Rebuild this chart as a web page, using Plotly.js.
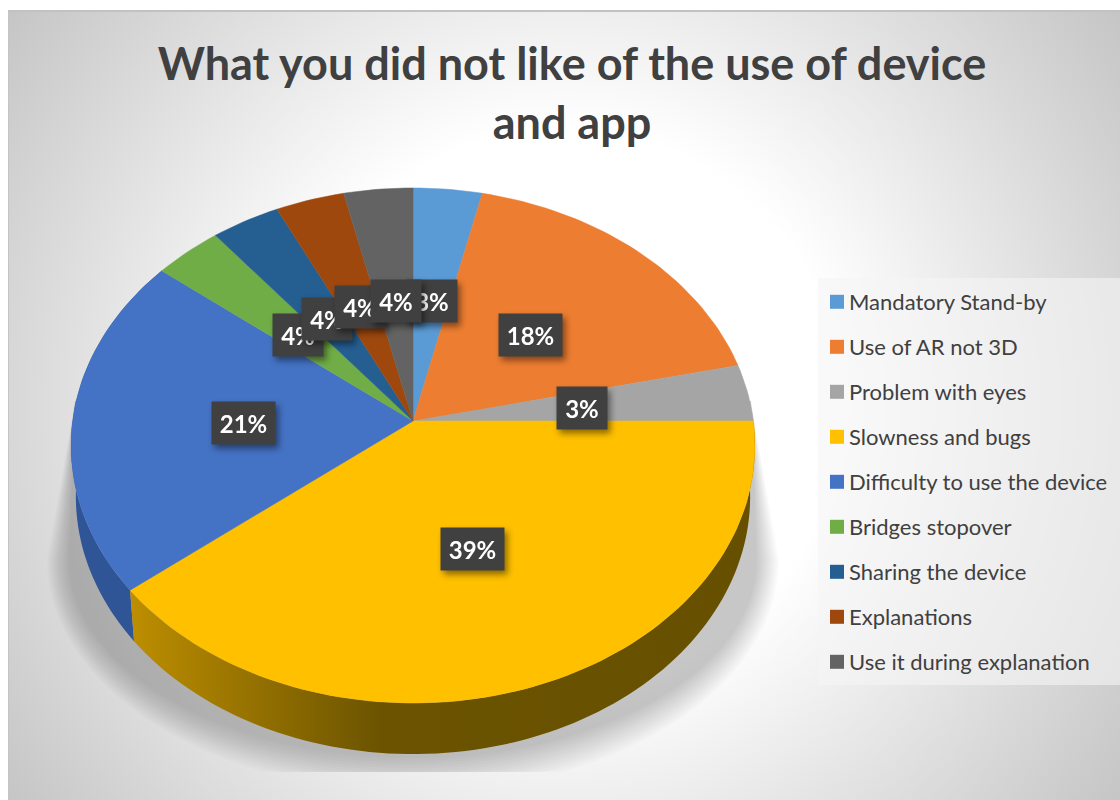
<!DOCTYPE html>
<html>
<head>
<meta charset="utf-8">
<script src="https://cdn.plot.ly/plotly-3.0.1.min.js"></script>
<style>
html,body{margin:0;padding:0;background:#fff;width:1120px;height:800px;overflow:hidden}
#panel{position:absolute;left:8px;top:10px;width:1112px;height:790px;box-sizing:border-box;border-left:1px solid #c4c4c4;border-top:2px solid #c2c2c2;
background:radial-gradient(circle 690px at 555px 394px,#ffffff 0%,#ffffff 40%,#c4c4c4 100%)}
#chart{position:absolute;left:0;top:0;width:1120px;height:800px}
.annotation{filter:drop-shadow(3px 4px 3px rgba(0,0,0,.45))}
</style>
</head>
<body>
<div id="panel"></div>
<div id="chart"></div>
<script>
// ---- data ----
const categories = ["Mandatory Stand-by","Use of AR not 3D","Problem with eyes","Slowness and bugs","Difficulty to use the device","Bridges stopover","Sharing the device","Explanations","Use it during explanation"];
const counts = [1,5,1,11,6,1,1,1,1];
const percentLabels = ["3%","18%","3%","39%","21%","4%","4%","4%","4%"];
const sliceColors = ["#5B9BD5","#ED7D31","#A5A5A5","#FFC000","#4472C4","#70AD47","#255E91","#9E480E","#636363"];
const titleText = "What you did not like of the use of device<br>and app";

// ---- view geometry ----
const W=1120,H=800, cx=413, cy=421, pxX=340.4, pxY=255.2, persp=0.0951, depth=0.2, baseScale=0.986;
const total = counts.reduce((a,b)=>a+b,0);
function proj(deg,r){const t=deg*Math.PI/180,X=r*Math.sin(t),Y=-r*Math.cos(t),w=1-persp*Y;return [X/w,-Y/w];}
function arc(a0,a1){const n=Math.max(2,Math.ceil((a1-a0)/1.5)),p=[];for(let i=0;i<=n;i++)p.push(proj(a0+(a1-a0)*i/n,1));return p;}

const traces=[];
// soft shadow beneath the disc
(function(){
  const layers=14;
  const cyPx=560;
  for(let i=0;i<layers;i++){
    const f=i/(layers-1), a=(366-22*f)/pxX, b=(232-34*f)/pxY, c0=-(cyPx-cy)/pxY, floor=-(772-cy)/pxY;
    const xs=[-(338)/pxX],ys=[-(-20)/pxY];
    for(let d=180;d<=360;d+=3){const t=d*Math.PI/180;xs.push(a*Math.cos(t));ys.push(Math.max(floor,c0+b*Math.sin(t)));}
    xs.push(338/pxX);ys.push(20/pxY);
    traces.push({type:"scatter",mode:"none",x:xs,y:ys,fill:"toself",fillcolor:"rgba(0,0,0,0.017)",showlegend:false,hoverinfo:"skip"});
  }
})();

// disc side wall
const wallFill = {
  3:{fillgradient:{type:"horizontal",colorscale:[[0,"#BD8E00"],[0.4,"#6B5300"],[1,"#665000"]]}},
  4:{fillcolor:"#2F5597"}
};
let acc=0;
const bounds=counts.map(v=>{const s=acc;acc+=v;return [s/total*360,acc/total*360];});
[4,3].forEach(i=>{
  const top=arc(bounds[i][0],bounds[i][1]);
  const bot=top.slice().reverse().map(p=>[p[0]*baseScale,p[1]-depth]);
  const pts=top.concat(bot); pts.push(top[0]);
  traces.push(Object.assign({type:"scatter",mode:"none",x:pts.map(p=>p[0]),y:pts.map(p=>p[1]),fill:"toself",showlegend:false,hoverinfo:"skip"},wallFill[i]));
});

// slices
categories.forEach((c,i)=>{
  const pts=[[0,0]].concat(arc(bounds[i][0],bounds[i][1]));pts.push([0,0]);
  traces.push({type:"scatter",mode:"lines",name:c,x:pts.map(p=>p[0]),y:pts.map(p=>p[1]),fill:"toself",fillcolor:sliceColors[i],line:{color:sliceColors[i],width:0.5},showlegend:false,hoverinfo:"skip"});
});

// legend entries
categories.forEach((c,i)=>{
  traces.push({type:"scatter",mode:"markers",name:c,legendgroup:c,x:[null],y:[null],marker:{symbol:"square",size:14,color:sliceColors[i]},hoverinfo:"skip"});
});

// data labels at half radius of each slice
const annotations=percentLabels.map((t,i)=>{
  const p=proj((bounds[i][0]+bounds[i][1])/2,0.5);
  return {x:p[0],y:p[1],xref:"x",yref:"y",xshift:1,yshift:-1.5,text:"<b>"+t+"</b>",showarrow:false,xanchor:"center",yanchor:"middle",
    font:{family:"Lato, sans-serif",size:24,color:"#FFFFFF"},bgcolor:"#404040",borderpad:0,width:t.length>2?63:50,height:42,align:"center",valign:"middle"};
});

const layout={
  width:W,height:H,margin:{l:0,r:0,t:0,b:0},paper_bgcolor:"rgba(0,0,0,0)",plot_bgcolor:"rgba(0,0,0,0)",
  title:{text:titleText,font:{family:"Lato, sans-serif",size:45,color:"#404040",weight:700},x:572/W,xanchor:"center",y:1-80/H,yanchor:"middle"},
  xaxis:{range:[-cx/pxX,(W-cx)/pxX],visible:false,fixedrange:true},
  yaxis:{range:[(cy-H)/pxY,cy/pxY],visible:false,fixedrange:true},
  showlegend:true,
  legend:{x:809/W,xanchor:"left",y:1-281/H,yanchor:"top",bgcolor:"rgba(0,0,0,0)",tracegroupgap:13.4,itemwidth:30,
    font:{family:"Lato, sans-serif",size:22,color:"#404040"}},
  shapes:[{type:"rect",xref:"paper",yref:"paper",x0:818/W,x1:1,y0:1-278/H,y1:1-685/H,fillcolor:"rgba(245,245,245,0.6)",line:{width:0},layer:"below"}],
  annotations:annotations
};
Plotly.newPlot("chart",traces,layout,{staticPlot:true,displayModeBar:false}).then(()=>{
  document.querySelectorAll("#chart .legend .legendpoints").forEach(g=>{g.setAttribute("transform","translate(8,0)");});
});
</script>
</body>
</html>
